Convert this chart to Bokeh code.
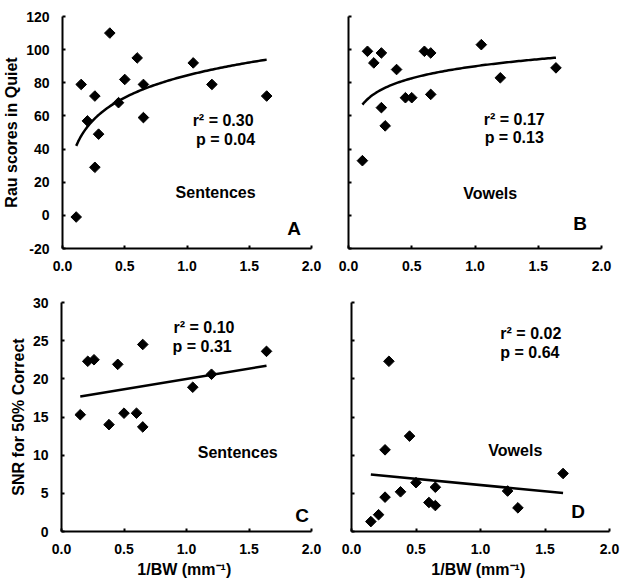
import numpy as np
from bokeh.plotting import figure
from bokeh.layouts import column, row
from bokeh.models import Range1d, FixedTicker, NumeralTickFormatter, Label
from bokeh.embed import file_html
from bokeh.resources import INLINE

FONT = "Liberation Sans"

# ---- data ----
a_x = [0.11, 0.15, 0.20, 0.26, 0.26, 0.29, 0.38, 0.45, 0.50, 0.60, 0.65, 0.65, 1.05, 1.20, 1.64]
a_y = [-1, 79, 57, 72, 29, 49, 110, 68, 82, 95, 79, 59, 92, 79, 72]

b_x = [0.11, 0.15, 0.20, 0.26, 0.26, 0.29, 0.38, 0.45, 0.50, 0.60, 0.65, 0.65, 1.05, 1.20, 1.64]
b_y = [33, 99, 92, 98, 65, 54, 88, 71, 71, 99, 98, 73, 103, 83, 89]

c_x = [0.15, 0.21, 0.26, 0.38, 0.45, 0.50, 0.60, 0.65, 0.65, 1.05, 1.20, 1.64]
c_y = [15.3, 22.3, 22.5, 14.0, 21.9, 15.5, 15.5, 24.5, 13.7, 18.9, 20.6, 23.6]

d_x = [0.15, 0.21, 0.26, 0.26, 0.29, 0.38, 0.45, 0.50, 0.60, 0.65, 0.65, 1.21, 1.29, 1.64]
d_y = [1.3, 2.2, 4.5, 10.7, 22.3, 5.2, 12.5, 6.4, 3.8, 3.4, 5.8, 5.3, 3.1, 7.6]

x_ticks = [0, 0.5, 1.0, 1.5, 2.0]
quiet_ticks = [-20, 0, 20, 40, 60, 80, 100, 120]
snr_ticks = [0, 5, 10, 15, 20, 25, 30]

stats = {"A": ("r² = 0.30", "p = 0.04"), "B": ("r² = 0.17", "p = 0.13"),
         "C": ("r² = 0.10", "p = 0.31"), "D": ("r² = 0.02", "p = 0.64")}
conditions = {"A": "Sentences", "B": "Vowels", "C": "Sentences", "D": "Vowels"}

y_label_top = "Rau scores in Quiet"
y_label_bottom = "SNR for 50% Correct"
x_label = "1/BW  (mm⁻¹)"


def style_axis(ax):
    ax.axis_line_width = 2
    ax.axis_line_color = "black"
    ax.major_tick_line_width = 2
    ax.major_tick_line_color = "black"
    ax.major_tick_in = 3
    ax.major_tick_out = 0
    ax.minor_tick_line_width = 2
    ax.minor_tick_line_color = "black"
    ax.minor_tick_in = 3
    ax.minor_tick_out = 0
    ax.major_label_text_font = FONT
    ax.major_label_text_font_style = "bold"
    ax.major_label_text_font_size = "14px"
    ax.major_label_text_color = "black"
    ax.axis_label_text_font = FONT
    ax.axis_label_text_font_style = "bold"
    ax.axis_label_text_font_size = "16px"
    ax.axis_label_text_color = "black"


def make(width, height, left, right, top, bottom, yr, yticks, ylabel=None, xlabel=None, show_ylabels=True):
    p = figure(width=width, height=height, output_backend="svg", toolbar_location=None,
               x_range=Range1d(0, 2), y_range=Range1d(*yr),
               min_border_left=left, min_border_right=right,
               min_border_top=top, min_border_bottom=bottom)
    p.outline_line_color = None
    p.xgrid.visible = False
    p.ygrid.visible = False
    p.background_fill_color = "white"
    p.border_fill_color = "white"
    xa, ya = p.xaxis[0], p.yaxis[0]
    style_axis(xa)
    style_axis(ya)
    xa.ticker = FixedTicker(ticks=x_ticks, minor_ticks=[])
    xa.formatter = NumeralTickFormatter(format="0.0")
    xa.major_label_standoff = 12
    ya.formatter = NumeralTickFormatter(format="0")
    if show_ylabels:
        ya.ticker = FixedTicker(ticks=yticks, minor_ticks=[])
        ya.major_label_standoff = 13
    else:
        # tick marks only, no labels
        ya.ticker = FixedTicker(ticks=[], minor_ticks=yticks)
        ya.major_label_standoff = 0
    if ylabel:
        ya.axis_label = ylabel
        ya.axis_label_standoff = 3
    if xlabel:
        xa.axis_label = xlabel
        xa.axis_label_standoff = 4
    return p


def add_text(p, x, y, text, size="16px"):
    p.add_layout(Label(x=x, y=y, text=text, text_font=FONT, text_font_style="bold",
                       text_font_size=size, text_align="center", text_baseline="middle",
                       text_color="black"))


def scatter(p, xs, ys):
    p.scatter(xs, ys, marker="square", size=7.5, angle=np.pi / 4,
              fill_color="black", line_color="black")


def log_fit(p, xs, ys):
    xs = np.asarray(xs, float); ys = np.asarray(ys, float)
    b, a = np.polyfit(np.log(xs), ys, 1)
    xx = np.linspace(xs.min(), xs.max(), 100)
    p.line(xx, a + b * np.log(xx), line_color="black", line_width=2.5)


def lin_fit(p, xs, ys):
    xs = np.asarray(xs, float); ys = np.asarray(ys, float)
    m, c = np.polyfit(xs, ys, 1)
    xx = np.array([xs.min(), xs.max()])
    p.line(xx, m * xx + c, line_color="black", line_width=2.5)


# Panel A
pa = make(323, 280, 61, 12, 15, 32, (-20, 120), quiet_ticks, ylabel=y_label_top)
log_fit(pa, a_x, a_y)
scatter(pa, a_x, a_y)
add_text(pa, 1.29, 57.5, stats["A"][0])
add_text(pa, 1.31, 46, stats["A"][1])
add_text(pa, 1.23, 13.8, conditions["A"])
add_text(pa, 1.86, -7.8, "A", "19px")

# Panel B
pb = make(298, 280, 25, 20, 16, 32, (-20, 120), quiet_ticks, show_ylabels=False)
log_fit(pb, b_x, b_y)
scatter(pb, b_x, b_y)
add_text(pb, 1.31, 57.8, stats["B"][0])
add_text(pb, 1.31, 46.8, stats["B"][1])
add_text(pb, 1.12, 13.4, conditions["B"])
add_text(pb, 1.83, -5.1, "B", "19px")

# Panel C
pc = make(323, 304, 61, 12, 22, 53, (0, 30), snr_ticks, ylabel=y_label_bottom, xlabel=x_label)
lin_fit(pc, c_x, c_y)
scatter(pc, c_x, c_y)
add_text(pc, 1.14, 26.7, stats["C"][0])
add_text(pc, 1.125, 24.3, stats["C"][1])
add_text(pc, 1.41, 10.35, conditions["C"])
add_text(pc, 1.925, 2.15, "C", "19px")

# Panel D
pd_ = make(298, 304, 28, 12, 22, 52, (0, 30), snr_ticks, xlabel=x_label, show_ylabels=False)
lin_fit(pd_, d_x, d_y)
scatter(pd_, d_x, d_y)
add_text(pd_, 1.39, 25.9, stats["D"][0])
add_text(pd_, 1.383, 23.4, stats["D"][1])
add_text(pd_, 1.27, 10.6, conditions["D"])
add_text(pd_, 1.756, 2.56, "D", "19px")

layout = column(row(pa, pb), row(pc, pd_))
open("out.html", "w").write(file_html(layout, INLINE))
